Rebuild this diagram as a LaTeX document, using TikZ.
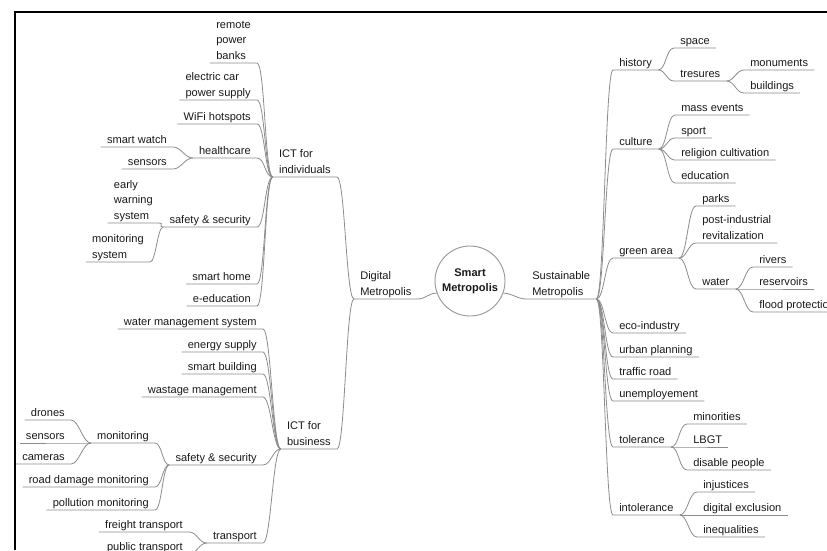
\documentclass[tikz,border=0pt]{standalone}
\usepackage{fontspec}
\setmainfont{Liberation Sans}
\usetikzlibrary{shapes.geometric}

\begin{document}
\begin{tikzpicture}[x=0.75pt,y=-0.75pt,
  every node/.style={font=\fontsize{8.3}{11.5}\selectfont, text=black!90},
  topic/.style={inner xsep=4.5pt, inner ysep=0.3pt, align=left, execute at end node={\rule[-2.5pt]{0pt}{2.5pt}}},
  lt/.style={topic, anchor=south east},
  rt/.style={topic, anchor=south west},
  branch/.style={draw=gray!90, line width=0.6pt}]
  \useasboundingbox (0,0) rectangle (827,550);
  \clip (0,0) rectangle (827,550);
  % frame
  \draw[line width=1.5pt] (15,550) -- (15,12) -- (827,12);

  % centre
  \node[circle, draw=gray!80, line width=0.7pt, minimum size=52.5pt, inner sep=0pt, align=center,
        font=\fontsize{8.3}{11.5}\selectfont\bfseries] (sm) at (470,281) {Smart\\Metropolis};
  \node[rt] (dig) at (354,299) {Digital\\Metropolis};
  \node[rt] (sus) at (526,299) {Sustainable\\Metropolis};
  \draw[branch] (sm.200) .. controls +(-8,0) and +(8,0) .. (dig.south east) -- (dig.south west);
  \draw[branch] (sm.-20) .. controls +(8,0) and +(-8,0) .. (sus.south west) -- (sus.south east);

  % digital side
  \node[lt] (ictI) at (337,177) {ICT for\\individuals};
  \node[lt] (ictB) at (337,449) {ICT for\\business};
  \foreach \n in {ictI,ictB}
    \draw[branch] (\n.south west) -- (\n.south east) .. controls +(8,0) and +(-8,0) .. (dig.south west);

  \foreach \n/\y/\lbl in {rpb/63/{remote\\power\\banks}, ecp/100/{electric car\\power supply},
      wifi/124/{WiFi hotspots}, care/158/healthcare, safeI/227/{safety \& security},
      home/284/{smart home}, eedu/306/e-education}{
    \node[lt] (\n) at (257,\y) {\lbl};
    \draw[branch] (\n.south west) -- (\n.south east) .. controls +(8,0) and +(-8,0) .. (ictI.south west);
  }
  \foreach \n/\y/\lbl in {watch/147/{smart watch}, sensI/169/sensors}{
    \node[lt] (\n) at (173,\y) {\lbl};
    \draw[branch] (\n.south west) -- (\n.south east) .. controls +(8,0) and +(-8,0) .. (care.south west);
  }
  \node[lt] (warn) at (159,223) {early\\warning\\system};
  \node[lt] (msys) at (150,262) {monitoring\\system};
  \foreach \n in {warn,msys}
    \draw[branch] (\n.south west) -- (\n.south east) .. controls +(6,0) and +(-6,0) .. (safeI.south west);

  \foreach \n/\y/\lbl in {wms/329/{water management system}, energy/352/{energy supply},
      sbuild/374/{smart building}, waste/397/{wastage management}, safeB/465/{safety \& security},
      trans/543/transport}{
    \node[lt] (\n) at (263,\y) {\lbl};
    \draw[branch] (\n.south west) -- (\n.south east) .. controls +(8,0) and +(-8,0) .. (ictB.south west);
  }
  \foreach \n/\y/\lbl in {moni/443/monitoring, road/487/{road damage monitoring}, poll/510/{pollution monitoring}}{
    \node[lt] (\n) at (155,\y) {\lbl};
    \draw[branch] (\n.south west) -- (\n.south east) .. controls +(7,0) and +(-7,0) .. (safeB.south west);
  }
  \foreach \n/\y/\lbl in {drones/420/drones, sensB/443/sensors, cams/464/cameras}{
    \node[lt] (\n) at (71,\y) {\lbl};
    \draw[branch] (\n.south west) -- (\n.south east) .. controls +(8,0) and +(-8,0) .. (moni.south west);
  }
  \foreach \n/\y/\lbl in {freight/532/{freight transport}, public/554/{public transport}}{
    \node[lt] (\n) at (189,\y) {\lbl};
    \draw[branch] (\n.south west) -- (\n.south east) .. controls +(8,0) and +(-8,0) .. (trans.south west);
  }

  % sustainable side
  \foreach \n/\y/\lbl in {hist/70/history, cult/149/culture, green/258/{green area}, eco/333/eco-industry,
      urban/357/{urban planning}, traffic/379/{traffic road}, unemp/401/unemployement,
      tol/447/tolerance, intol/515/intolerance}{
    \node[rt] (\n) at (613,\y) {\lbl};
    \draw[branch] (sus.south east) .. controls +(8,0) and +(-8,0) .. (\n.south west) -- (\n.south east);
  }
  \foreach \n/\y/\lbl in {space/48/space, tres/81/tresures}{
    \node[rt] (\n) at (674,\y) {\lbl};
    \draw[branch] (hist.south east) .. controls +(8,0) and +(-8,0) .. (\n.south west) -- (\n.south east);
  }
  \foreach \n/\y/\lbl in {monu/70/monuments, bldg/93/buildings}{
    \node[rt] (\n) at (744,\y) {\lbl};
    \draw[branch] (tres.south east) .. controls +(8,0) and +(-8,0) .. (\n.south west) -- (\n.south east);
  }
  \foreach \n/\y/\lbl in {mass/115/{mass events}, sport/138/sport, relig/160/{religion cultivation}, educ/183/education}{
    \node[rt] (\n) at (675,\y) {\lbl};
    \draw[branch] (cult.south east) .. controls +(8,0) and +(-8,0) .. (\n.south west) -- (\n.south east);
  }
  \foreach \n/\y/\lbl in {parks/206/parks, postind/243/{post-industrial\\revitalization}, water/289/water}{
    \node[rt] (\n) at (696,\y) {\lbl};
    \draw[branch] (green.south east) .. controls +(8,0) and +(-8,0) .. (\n.south west) -- (\n.south east);
  }
  \foreach \n/\y/\lbl in {rivers/267/rivers, resv/289/reservoirs, flood/312/{flood protection}}{
    \node[rt] (\n) at (753,\y) {\lbl};
    \draw[branch] (water.south east) .. controls +(8,0) and +(-8,0) .. (\n.south west) -- (\n.south east);
  }
  \foreach \n/\y/\lbl in {minor/424/minorities, lbgt/447/LBGT, disab/470/{disable people}}{
    \node[rt] (\n) at (687,\y) {\lbl};
    \draw[branch] (tol.south east) .. controls +(8,0) and +(-8,0) .. (\n.south west) -- (\n.south east);
  }
  \foreach \n/\y/\lbl in {injust/492/injustices, digex/515/{digital exclusion}, ineq/537/inequalities}{
    \node[rt] (\n) at (697,\y) {\lbl};
    \draw[branch] (intol.south east) .. controls +(8,0) and +(-8,0) .. (\n.south west) -- (\n.south east);
  }
\end{tikzpicture}
\end{document}
